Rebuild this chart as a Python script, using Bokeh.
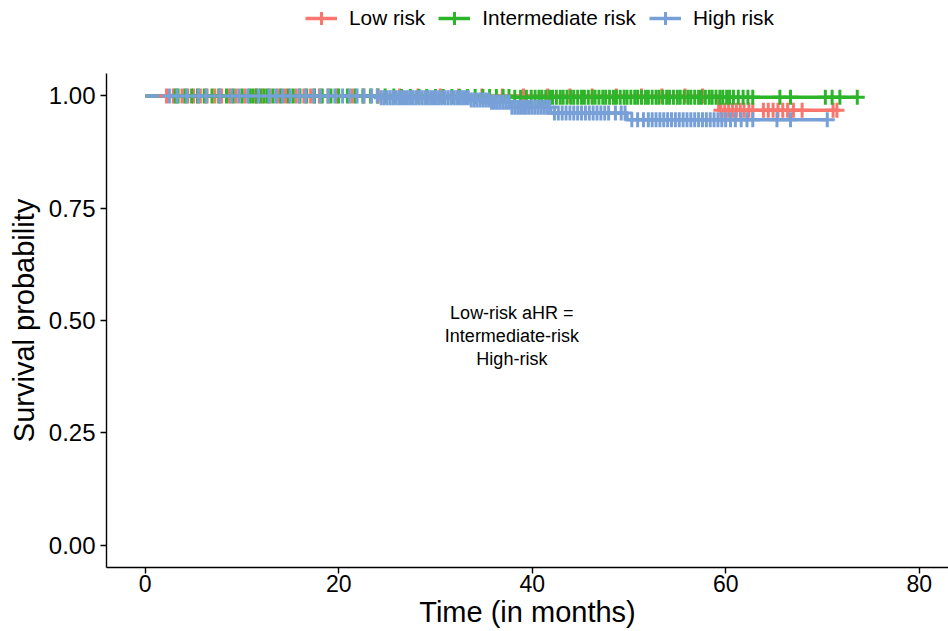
from bokeh.plotting import figure
from bokeh.layouts import column
from bokeh.models import Legend, LegendItem, Range1d, FixedTicker, NumeralTickFormatter
from bokeh.embed import file_html
from bokeh.resources import INLINE
from bokeh.core.properties import value

# ---------------- data ----------------
groups = ["Low risk", "Intermediate risk", "High risk"]
colors = ["#F8766D", "#2DB52A", "#78A0D8"]

# Kaplan-Meier event steps (time in months, survival after the step)
low_event_times = [59.3]
low_event_surv = [0.968]
mid_event_times = [26.0, 38.0]
mid_event_surv = [0.999, 0.997]
high_event_times = [24.3, 33.6, 35.7, 37.7, 41.9, 49.8]
high_event_surv = [0.996, 0.991, 0.986, 0.975, 0.962, 0.947]

# censoring times (the "+" marks)
low_censor = [2.2, 2.9, 3.8, 4.4, 5.0, 5.7, 6.4, 7.2, 7.9, 8.7, 9.4, 10.3, 11.4, 12.1,
              12.9, 13.7, 14.5, 15.6, 16.4, 17.1, 18.0, 18.9, 19.8, 21.4, 22.6, 24.1,
              26.3, 28.2, 30.5, 32.4, 34.8, 36.9, 39.1, 41.6, 43.9, 46.2, 48.7, 51.3,
              53.4, 55.8, 57.6, 59.5, 59.9, 60.3, 60.7, 61.1, 61.5, 61.9, 62.4, 62.8,
              63.9, 64.4, 64.9, 65.4, 65.9, 66.4, 67.0, 67.9, 71.1, 71.5]
mid_censor = [3.1, 3.4, 4.1, 4.8, 5.4, 6.1, 6.9, 7.6, 8.4, 9.1, 10.0, 10.8, 11.1, 11.5,
              11.9, 12.3, 12.6, 13.2, 14.0, 14.8, 15.3, 16.0, 16.7, 17.5, 18.3, 19.2,
              20.0, 20.9, 21.7, 22.5, 23.3, 24.0, 24.8, 25.7, 26.5, 27.4, 28.3, 29.1,
              30.0, 30.8, 31.7, 32.5, 33.3, 34.1, 34.9, 35.6, 36.3, 37.0, 37.6, 38.2,
              38.8, 39.4, 39.9, 40.3, 40.7, 41.0, 41.4, 41.8, 42.1, 42.5, 42.9, 43.2,
              43.6, 44.0, 44.3, 44.7, 45.1, 45.4, 45.8, 46.2, 46.5, 46.9, 47.3, 47.6,
              48.0, 48.4, 48.7, 49.1, 49.5, 49.8, 50.2, 50.6, 50.9, 51.3, 51.7, 52.0,
              52.4, 52.8, 53.1, 53.5, 53.9, 54.2, 54.6, 55.0, 55.3, 55.7, 56.1, 56.4,
              56.8, 57.2, 57.5, 57.9, 58.3, 58.6, 59.0, 59.4, 59.7, 60.1, 60.4, 60.8,
              61.3, 61.8, 62.3, 62.8, 65.6, 66.7, 70.3, 71.0, 71.8, 73.6]
high_censor = [2.5, 3.3, 4.3, 5.5, 6.3, 7.7, 8.9, 9.7, 10.6, 11.7, 12.8, 13.5, 14.2,
               15.0, 15.9, 16.6, 17.4, 18.1, 18.9, 19.6, 20.4, 21.1, 21.9, 22.6, 23.4,
               24.0, 24.4, 24.7, 25.0, 25.3, 25.6, 25.9, 26.2, 26.5, 26.8, 27.1, 27.4,
               27.7, 28.0, 28.3, 28.6, 28.9, 29.2, 29.5, 29.8, 30.1, 30.4, 30.7, 31.0,
               31.3, 31.6, 31.9, 32.2, 32.5, 32.8, 33.1, 33.4, 33.7, 34.0, 34.3, 34.6,
               34.9, 35.2, 35.5, 35.8, 36.1, 36.4, 36.7, 37.0, 37.3, 37.6, 37.9, 38.2,
               38.5, 38.8, 39.1, 39.4, 39.7, 40.0, 40.3, 40.6, 40.9, 41.2, 41.5, 41.8,
               42.3, 42.7, 43.1, 43.5, 43.9, 44.3, 44.7, 45.1, 45.5, 45.9, 46.3,
               46.7, 47.1, 47.5, 47.9, 48.6, 49.2, 49.6, 50.3, 50.9, 51.5, 52.0, 52.4,
               52.8, 53.2, 53.6, 54.0, 54.4, 54.8, 55.2, 55.6, 56.0, 56.4, 56.8, 57.2,
               57.6, 58.0, 58.4, 58.8, 59.2, 59.6, 60.0, 60.5, 61.0, 61.6, 62.2, 62.8,
               65.3, 66.7, 70.5]

x_ticks = [0, 20, 40, 60, 80]
y_ticks = [0.0, 0.25, 0.50, 0.75, 1.00]
annot_lines = ["Low-risk aHR =", "Intermediate-risk", "High-risk"]
annot_x = 37.9
annot_y = 0.466

events = [(low_event_times, low_event_surv), (mid_event_times, mid_event_surv),
          (high_event_times, high_event_surv)]
censors = [low_censor, mid_censor, high_censor]


def km_path(evt_t, evt_s, end_t):
    xs, ys, s = [0.0], [1.0], 1.0
    for t, v in zip(evt_t, evt_s):
        xs += [t, t]
        ys += [s, v]
        s = v
    xs.append(end_t)
    ys.append(s)
    return xs, ys


def surv_at(t, evt_t, evt_s):
    s = 1.0
    for et, v in zip(evt_t, evt_s):
        if et <= t:
            s = v
    return s


FONT = "Liberation Sans"
LINE_W = 3.5
CROSS_SIZE = 15
CROSS_W = 3

# ---------------- legend strip ----------------
# the legend lives in its own strip above the panel; its proxy glyphs sit
# outside the visible range so that only the legend shows them
pl = figure(width=948, height=73, output_backend="svg", toolbar_location=None,
            x_range=Range1d(0, 1), y_range=Range1d(0, 1),
            min_border=0, outline_line_color=None)
pl.axis.visible = False
pl.xgrid.visible = False
pl.ygrid.visible = False
leg_items = []
for g, col in zip(groups, colors):
    lr = pl.line([-5, -4], [-5, -5], line_color=col, line_width=LINE_W)
    sr = pl.scatter([-5], [-5], marker="cross", size=CROSS_SIZE, line_color=col,
                    line_width=CROSS_W)
    leg_items.append(LegendItem(label=g, renderers=[lr, sr]))
legend = Legend(items=leg_items, orientation="horizontal", location=(199, 37),
                glyph_width=32, glyph_height=36, label_standoff=12, spacing=13,
                padding=0, margin=0, border_line_color=None,
                background_fill_alpha=0, label_text_font=FONT,
                label_text_font_size="20.8px", label_text_color="black")
pl.add_layout(legend)

# ---------------- main plot ----------------
p = figure(width=948, height=558, output_backend="svg", toolbar_location=None,
           x_range=Range1d(-4, 83.03), y_range=Range1d(-0.05, 1.05),
           min_border_left=106, min_border_right=0, min_border_top=0,
           min_border_bottom=64)
p.outline_line_color = None
p.xgrid.visible = False
p.ygrid.visible = False
p.background_fill_color = "white"

for (et, es), cen, col in zip(events, censors, colors):
    xs, ys = km_path(et, es, max(cen))
    p.line(xs, ys, line_color=col, line_width=LINE_W)
for (et, es), cen, col in zip(events, censors, colors):
    cy = [surv_at(t, et, es) for t in cen]
    p.scatter(cen, cy, marker="cross", size=CROSS_SIZE, line_color=col,
              line_width=CROSS_W)

p.text(x=[annot_x], y=[annot_y], text=["\n".join(annot_lines)],
       text_align="center", text_baseline="middle", text_font=value(FONT),
       text_font_size="18px", text_line_height=1.15, text_color="black")

for ax in (p.xaxis[0], p.yaxis[0]):
    ax.axis_line_color = "black"
    ax.axis_line_width = 1.4
    ax.major_tick_line_color = "black"
    ax.major_tick_line_width = 1.4
    ax.major_tick_out = 6
    ax.major_tick_in = 0
    ax.minor_tick_line_color = None
    ax.major_label_text_font = FONT
    ax.major_label_text_color = "black"
    ax.axis_label_text_font = FONT
    ax.axis_label_text_font_size = "29px"
    ax.axis_label_text_font_style = "normal"
    ax.axis_label_text_color = "black"

p.xaxis.major_label_text_font_size = "23px"
p.yaxis.major_label_text_font_size = "24px"
p.xaxis.ticker = FixedTicker(ticks=x_ticks)
p.yaxis.ticker = FixedTicker(ticks=y_ticks)
p.yaxis.formatter = NumeralTickFormatter(format="0.00")
p.xaxis.axis_label = "Time (in months)"
p.yaxis.axis_label = "Survival probability"
p.xaxis.major_label_standoff = 1
p.xaxis.axis_label_standoff = 1
p.yaxis.major_label_standoff = 5
p.yaxis.axis_label_standoff = 6

layout = column(pl, p, spacing=0)
open("out.html", "w").write(file_html(layout, INLINE))
